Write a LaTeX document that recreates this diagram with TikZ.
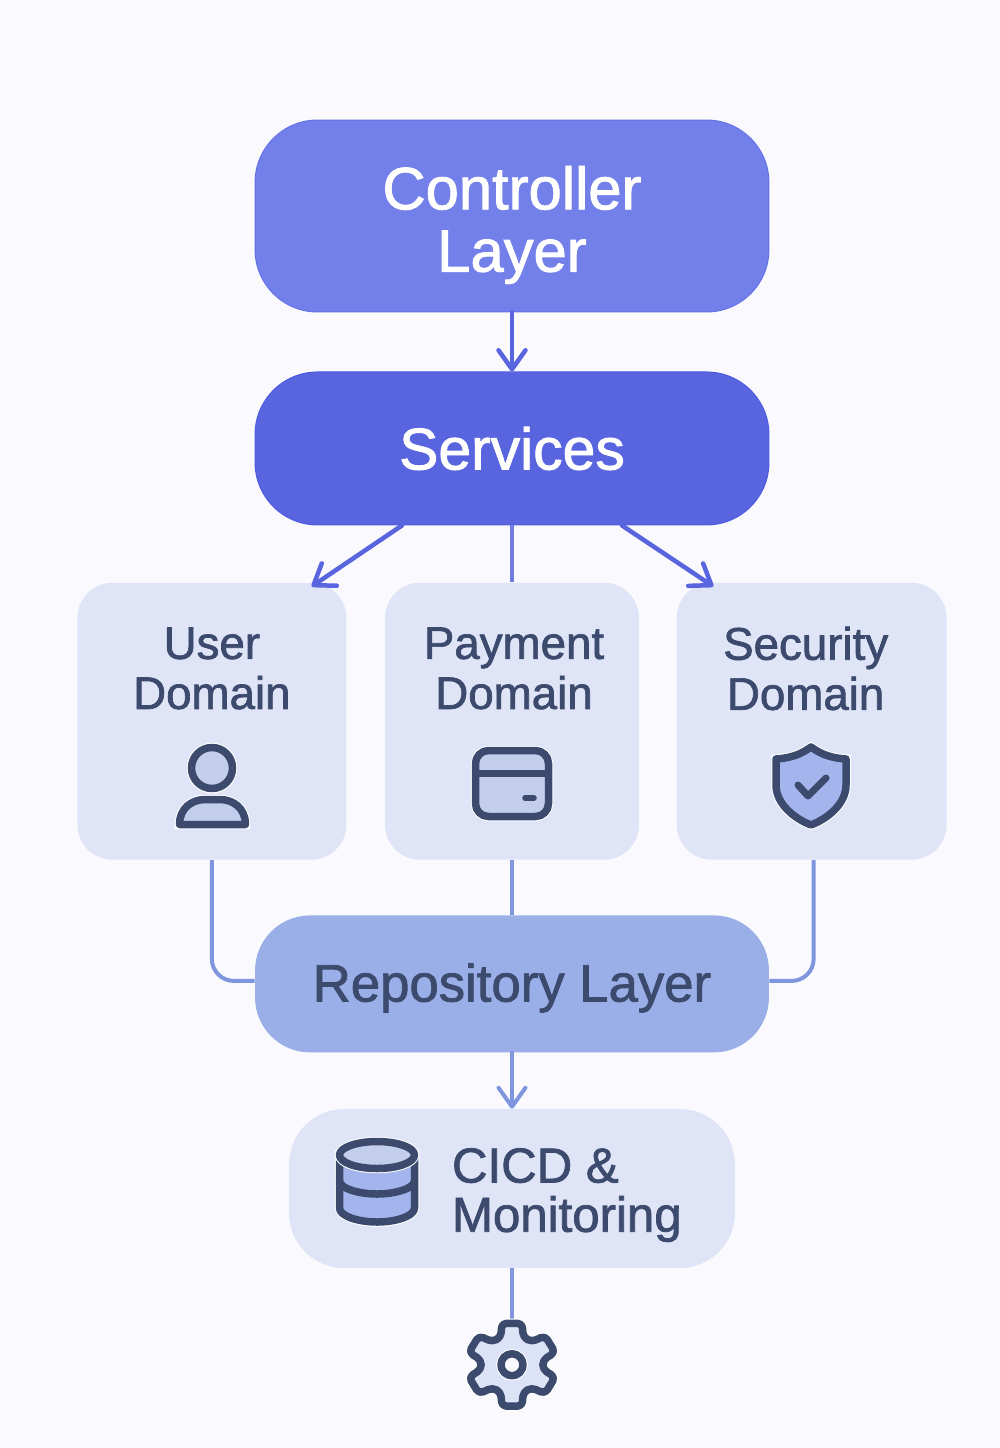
\documentclass[tikz,border=0pt]{standalone}
\usepackage{xcolor}
\usepackage{fontspec}
\setmainfont{Liberation Sans}[FakeBold=1.5]
\usetikzlibrary{positioning, arrows.meta}

\definecolor{pagebg}{HTML}{FAFAFE}
\definecolor{ctrlfill}{HTML}{7480EA}
\definecolor{ctrledge}{HTML}{6370E8}
\definecolor{svcfill}{HTML}{5865DF}
\definecolor{svcedge}{HTML}{4E5CE0}
\definecolor{domfill}{HTML}{DFE4F7}
\definecolor{repofill}{HTML}{9AAFE7}
\definecolor{repoline}{HTML}{7F96DE}
\definecolor{inkdark}{HTML}{3B4A6D}
\definecolor{iconlight}{HTML}{C3CDEC}
\definecolor{iconmid}{HTML}{A3B5EC}
\definecolor{gearfill}{HTML}{DDE3F6}

\begin{document}
\begin{tikzpicture}[
    x=0.02cm, y=-0.02cm,
    >={Straight Barb[round, length=0.38cm, width=0.54cm]},
    layer/.style={
        rectangle, inner sep=0pt, minimum width=10.28cm,
        align=center
    },
    domainbox/.style={
        rectangle, rounded corners=0.7cm, fill=domfill, inner sep=0pt,
        minimum height=5.54cm
    },
    domlabel/.style={
        align=center, inner sep=0pt, text=inkdark,
        font=\fontsize{26}{28.5}\selectfont
    },
    svcarrow/.style={->, line width=0.09cm, draw=svcfill, line cap=round},
    svcline/.style={line width=0.08cm, draw=svcfill!85!pagebg},
    repoarrow/.style={line width=0.08cm, draw=repoline},
    icon/.style={
        draw=inkdark, line width=0.15cm, line join=round, line cap=round,
        preaction={draw=white, line width=0.19cm}
    }
]

\useasboundingbox[fill=pagebg] (0,0) rectangle (1000,1448);

% 1. Layers in the middle column
\node[layer, rounded corners=1.25cm, minimum height=3.84cm, fill=ctrlfill, draw=ctrledge, line width=0.02cm] (controller) at (512,216) {};
\node[inner sep=0pt, align=center, text=white, font=\fontsize{34}{35.5}\selectfont] (controllerlabel)
    at ([yshift=-0.18cm]controller.center) {Controller\\Layer};
\node[layer, rounded corners=1.25cm, minimum height=3.06cm, fill=svcfill, draw=svcedge, line width=0.02cm,
      text=white, font=\fontsize{33.5}{35.5}\selectfont, below=1.18cm of controller] (services) {Services};

% 2. Domains in a row below the services
\node[domainbox, minimum width=5.08cm, below=1.14cm of services] (payment) {};
\node[domainbox, minimum width=5.38cm, left=0.76cm of payment] (user) {};
\node[domainbox, minimum width=5.40cm, right=0.74cm of payment] (security) {};

\node[domlabel] (userlabel) at ([yshift=-1.72cm]user.north) {User\\Domain};
\node[domlabel, xshift=0.04cm] (paymentlabel) at ([yshift=-1.72cm]payment.north) {Payment\\Domain};
\node[domlabel, xshift=-0.12cm] (securitylabel) at ([yshift=-1.72cm]security.north) {Security\\Domain};

% 3. Repository, pipeline and gear
\node[layer, rounded corners=1.1cm, minimum height=2.74cm, fill=repofill, below=1.1cm of payment] (repo) {};
\node[inner sep=0pt, text=inkdark, font=\fontsize{30}{32}\selectfont] (repolabel)
    at ([yshift=-0.08cm]repo.center) {Repository Layer};
\node[rectangle, rounded corners=1.1cm, fill=domfill, minimum width=8.92cm, minimum height=3.18cm,
      inner sep=0pt, below=1.12cm of repo] (cicd) {};
\node[domlabel, anchor=west, align=left, font=\fontsize{28}{28}\selectfont] (cicdlabel)
    at ([xshift=3.26cm,yshift=-0.13cm]cicd.west) {CICD \&\\Monitoring};
\node[inner sep=0pt, minimum size=1.8cm, below=1.02cm of cicd] (gear) {};

% 4. Connectors
\draw[svcarrow, ->] (controller) -- (services);
\draw[svcarrow] ([xshift=-2.2cm]services.south) -- ([xshift=-0.7cm,yshift=-0.08cm]user.north east);
\draw[svcline] (services) -- (payment);
\draw[svcarrow] ([xshift=2.2cm]services.south) -- ([xshift=0.74cm,yshift=-0.08cm]security.north west);

\draw[repoarrow, rounded corners=0.44cm] (user.south) |- ([yshift=0.06cm]repo.west);
\draw[repoarrow] (payment) -- (repo);
\draw[repoarrow, rounded corners=0.44cm] ([xshift=0.04cm]security.south) |- ([yshift=0.06cm]repo.east);
\draw[repoarrow, ->, line cap=round] (repo) -- (cicd);
\draw[repoarrow] (cicd) -- (gear.north);

% 5. Icons
\draw[icon, fill=iconlight] (212,768) circle [radius=20.5];
\draw[icon, fill=iconlight] (179.5,824.5) .. controls (179.5,808) and (192,799.5) .. (205,799.5)
    -- (220,799.5) .. controls (233,799.5) and (245.5,808) .. (245.5,824.5) -- cycle;

\draw[icon, fill=iconlight, rounded corners=0.26cm] (475.5,750.5) rectangle (548.5,816.5);
\draw[draw=inkdark, line width=0.14cm] (475.5,773) -- (548.5,773);
\draw[draw=inkdark, line width=0.11cm, line cap=round] (525,798) -- (534,798);

\draw[icon, fill=iconmid] (811,747) .. controls (800,755) and (790,758) .. (776,759)
    -- (776,785) .. controls (776,803) and (793,818) .. (811,825)
    .. controls (829,818) and (846,803) .. (846,785) -- (846,759)
    .. controls (832,758) and (822,755) .. (811,747) -- cycle;
\draw[draw=inkdark, line width=0.14cm, line cap=round, line join=round] (798,785) -- (808,796) -- (826,778);

\draw[icon, fill=iconmid] (339.5,1155) -- (339.5,1208) .. controls (339.5,1216) and (358,1222) .. (377,1222)
    .. controls (396,1222) and (414.5,1216) .. (414.5,1208) -- (414.5,1155) -- cycle;
\draw[icon, fill=iconlight] (377,1155) ellipse [x radius=37.5, y radius=13.5];
\draw[draw=inkdark, line width=0.15cm] (339.5,1181) .. controls (339.5,1188) and (358,1194) .. (377,1194)
    .. controls (396,1194) and (414.5,1188) .. (414.5,1181);

\begin{scope}[shift={(gear.center)}, xscale=1.06]
\draw[icon, fill=gearfill, rounded corners=0.09cm] (103:42.5)
    \foreach \ang in {90,30,-30,-90,-150} {
        -- ({\ang-13}:42.5) -- ({\ang-21}:29.5) -- ({\ang-39}:29.5) -- ({\ang-47}:42.5)
    } -- (-223:42.5) -- (-231:29.5) -- (-249:29.5) -- cycle;
\end{scope}
\draw[icon, fill=pagebg] (gear.center) circle [radius=11];

\end{tikzpicture}
\end{document}
